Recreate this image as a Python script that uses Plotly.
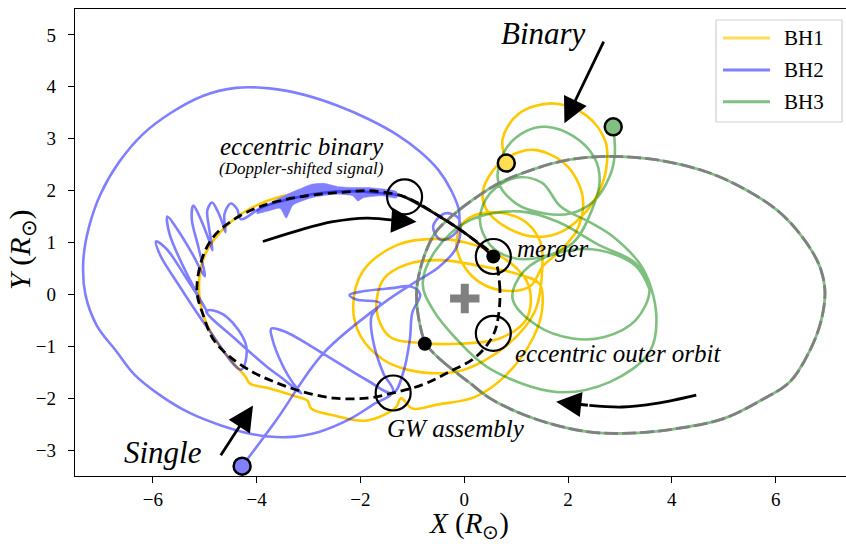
import plotly.graph_objects as go

# ---------------- trajectories (units of solar radii) ----------------
bh1_path = [
    (0.81, 2.53), (0.74, 3.0), (1.05, 3.48), (1.71, 3.68), (2.35, 3.45), (2.72, 2.95),
    (2.74, 2.45), (2.61, 2.01), (2.35, 1.6), (1.9, 1.22), (1.39, 1.11), (0.8, 1.3),
    (0.42, 1.65), (0.36, 2.0), (0.65, 2.5), (1.05, 2.74), (1.39, 2.78), (1.9, 2.55),
    (2.22, 2.1), (2.29, 1.69), (2.15, 1.2), (1.8, 0.8),
    (1.52, 0.55), (1.26, 0.15), (0.7, 0.08), (0.15, 0.35), (-0.15, 0.92), (0.0, 1.4),
    (0.5, 1.58), (1.1, 1.45), (1.45, 1.05), (1.5, 0.45),
    (1.35, -0.35), (0.8, -1.0), (0.0, -1.45), (-0.47, -1.52), (-1.1, -1.45), (-1.56, -1.26),
    (-2.0, -0.8), (-2.14, -0.24), (-1.95, 0.45), (-1.3, 0.95), (-0.47, 1.07), (0.2, 0.95),
    (0.9, 0.6), (1.25, 0.15),
    (1.2, -0.47), (0.68, -0.85), (-0.1, -0.95), (-0.79, -0.94), (-1.44, -0.81), (-1.69, -0.3),
    (-1.55, 0.3), (-1.1, 0.58), (-0.47, 0.66), (0.3, 0.55), (1.0, 0.4), (1.45, 0.2),
    (1.5, -0.3), (1.32, -0.85), (0.8, -1.56), (0.2, -1.98), (-0.5, -2.12), (-1.0, -2.2),
    (-1.22, -2.0), (-1.32, -2.18), (-1.88, -2.43), (-2.53, -2.33), (-2.95, -2.2),
    (-3.02, -2.05), (-3.3, -1.95), (-3.8, -1.8), (-4.13, -1.72), (-4.22, -1.58),
    (-4.6, -1.15), (-4.9, -0.7), (-5.08, -0.2), (-5.1, 0.35), (-4.98, 0.8), (-4.7, 1.2),
    (-4.3, 1.55), (-3.8, 1.8), (-3.2, 1.96), (-2.5, 2.02), (-1.9, 2.02), (-1.2, 1.9),
    (-0.5, 1.52), (0.1, 1.12), (0.56, 0.73),
]

bh2_path = [
    # incoming single
    (-4.28, -3.31), (-3.62, -2.42), (-2.72, -1.14), (-1.56, -0.17), (-0.99, 0.21),
    (-0.5, 0.52), (-0.18, 0.85), (-0.08, 1.15),
    (-0.12, 1.48), (-0.38, 1.56), (-0.6, 1.3), (-0.45, 1.05), (-0.15, 1.2), (-0.1, 1.6),
    # wide excursion
    (-0.25, 2.0), (-0.5, 2.4), (-0.85, 2.75), (-1.3, 3.08), (-1.85, 3.38), (-2.45, 3.64),
    (-3.1, 3.85), (-3.75, 3.97), (-4.4, 3.98), (-5.05, 3.82), (-5.65, 3.5), (-6.2, 3.08),
    (-6.65, 2.55), (-7.0, 1.95), (-7.23, 1.3), (-7.34, 0.65), (-7.3, 0.0), (-7.08, -0.6),
    (-6.7, -1.1), (-6.35, -1.55), (-5.85, -1.95), (-5.3, -2.28), (-4.7, -2.52),
    (-4.05, -2.7), (-3.4, -2.75), (-2.8, -2.65), (-2.2, -2.4), (-1.75, -2.12), (-1.37, -1.88),
    # loop above the assembly point
    (-1.56, -1.52), (-1.76, -0.88), (-1.79, -0.43), (-1.62, -0.17), (-2.08, -0.1),
    (-2.21, -0.01), (-1.95, 0.06), (-1.4, 0.12), (-1.02, 0.15), (-0.85, 0.0),
    (-1.0, -0.35), (-1.05, -0.88), (-1.18, -1.52), (-1.37, -1.9),
    # back out to the left
    (-1.88, -1.65), (-2.72, -1.14), (-3.45, -0.72), (-3.72, -0.66), (-3.7, -0.85),
    (-3.49, -1.39), (-3.3, -1.71), (-3.14, -1.91), (-3.5, -1.62), (-3.81, -1.39),
    (-4.39, -0.88), (-4.97, -0.33), (-4.9, -0.3), (-4.58, -0.43), (-4.2, -1.0),
    (-4.3, -1.45),
    # precessing petals of the eccentric binary
    (-4.95, -0.64), (-5.52, 0.21), (-5.86, 0.76), (-5.94, 1.02), (-5.74, 0.88),
    (-5.36, 0.32), (-5.0, -0.25), (-4.95, -0.35),
    (-5.41, 0.53), (-5.68, 1.17), (-5.72, 1.5), (-5.52, 1.24), (-5.25, 0.8), (-5.0, 0.35),
    (-5.12, 0.9), (-5.25, 1.45), (-5.22, 1.71), (-5.1, 1.5), (-4.92, 1.05), (-4.85, 0.85),
    (-4.92, 1.3), (-4.95, 1.62), (-4.86, 1.77), (-4.75, 1.6), (-4.65, 1.35), (-4.6, 1.2),
    (-4.62, 1.55), (-4.5, 1.75), (-4.38, 1.65), (-4.3, 1.45),
    # Doppler-modulated arc into the merger
    (-3.9, 1.68), (-3.4, 1.83), (-2.8, 1.95), (-2.2, 1.99), (-1.6, 1.95), (-1.15, 1.88),
    (-0.47, 1.5), (0.11, 1.11), (0.56, 0.73),
]

# envelope of the rapidly oscillating (Doppler-shifted) part of BH2's orbit
bh2_chirp = [
    (-4.0, 1.62), (-3.6, 1.84), (-3.2, 2.02), (-2.95, 2.12), (-2.7, 2.14), (-2.45, 2.08),
    (-2.15, 2.06), (-1.85, 2.06), (-1.55, 2.03), (-1.3, 1.98),
    (-1.3, 1.86), (-1.6, 1.9), (-1.95, 1.86), (-2.05, 1.8), (-2.15, 1.9), (-2.5, 1.93),
    (-2.95, 1.86), (-3.3, 1.72), (-3.43, 1.47), (-3.55, 1.66), (-3.8, 1.6), (-4.0, 1.55),
]

bh3_path = [
    (2.87, 3.23), (2.9, 2.7), (2.8, 2.27), (2.5, 1.8), (2.05, 1.56), (1.55, 1.56),
    (1.0, 1.75), (0.65, 2.2), (0.8, 2.8), (1.2, 3.15), (1.58, 3.23), (2.1, 3.05),
    (2.5, 2.65), (2.61, 2.2), (2.45, 1.6), (2.1, 1.0), (1.5, 0.72), (0.95, 0.7),
    (0.5, 0.95), (0.3, 1.45), (0.5, 1.95), (1.0, 2.25), (1.5, 2.15), (1.85, 1.7),
    (2.4, 1.4), (2.87, 1.11), (3.44, 0.5), (3.7, -0.4), (3.57, -1.11), (2.8, -1.69),
    (1.77, -1.88), (0.49, -1.43), (-0.16, -0.85), (-0.6, -0.3), (-0.8, 0.2), (-0.55, 0.85),
    (0.11, 1.43), (1.07, 1.6), (1.8, 1.4), (2.6, 0.95), (3.3, 0.6), (3.57, 0.1),
    (3.3, -0.5), (2.7, -0.82), (2.09, -0.85), (1.4, -0.6), (0.93, -0.08), (1.15, 0.45),
    (1.8, 0.8), (2.6, 0.85), (3.3, 0.55), (3.57, 0.1),
]

outer_orbit = [
    (-0.74, -0.95), (-0.41, -1.3), (0.1, -1.7), (0.49, -2.0), (1.1, -2.3), (1.76, -2.52),
    (2.4, -2.65), (3.05, -2.68), (4.0, -2.6), (4.98, -2.4), (5.7, -2.05), (6.27, -1.69),
    (6.65, -1.1), (6.87, -0.53), (6.95, 0.03), (6.88, 0.45), (6.72, 0.8), (6.4, 1.25),
    (6.02, 1.63), (5.4, 2.03), (4.73, 2.34), (3.9, 2.56), (3.12, 2.65), (2.5, 2.65),
    (1.84, 2.56), (1.13, 2.34), (0.7, 2.16), (0.16, 1.82), (-0.25, 1.5), (-0.55, 1.2),
    (-0.75, 0.8), (-0.88, 0.35), (-0.92, 0.0), (-0.88, -0.45), (-0.74, -0.95),
]

binary_com = [
    (0.56, 0.73), (0.68, 0.2), (0.66, -0.4), (0.56, -0.78), (0.23, -1.2), (-0.3, -1.5),
    (-0.8, -1.74), (-1.37, -1.9), (-1.88, -2.0), (-2.5, -2.0), (-3.17, -1.86), (-3.7, -1.67),
    (-4.07, -1.5), (-4.52, -1.2), (-4.84, -0.86), (-5.03, -0.4), (-5.15, 0.05), (-5.06, 0.66),
    (-4.84, 1.1), (-4.46, 1.43), (-3.94, 1.69), (-3.17, 1.88), (-2.2, 1.98), (-1.88, 2.0),
    (-1.15, 1.88), (-0.47, 1.5), (0.11, 1.11), (0.56, 0.73),
]
inspiral = [(-1.15, 1.88), (-0.47, 1.5), (0.11, 1.11), (0.56, 0.73)]

start_points = [(0.81, 2.53), (-4.28, -3.31), (2.87, 3.23)]
start_colors = ["rgb(255,221,85)", "rgb(128,128,255)", "rgb(128,192,128)"]
event_circles = [(-1.15, 1.88), (0.56, 0.73), (0.56, -0.75), (-1.37, -1.9)]
black_dots = [(0.56, 0.73), (-0.76, -0.95)]
centre_of_mass = (0.01, -0.08)

# arrows: straight (tail, tip) and curved (shaft points, tip last)
straight_arrows = [((2.7, 4.9), (1.93, 3.3)), ((-4.71, -3.13), (-4.07, -2.14))]
curved_arrows = [
    [(-3.88, 1.02), (-3.17, 1.24), (-2.53, 1.4), (-1.88, 1.47), (-1.37, 1.43), (-0.92, 1.4)],
    [(4.47, -1.94), (3.7, -2.1), (3.05, -2.17), (2.41, -2.14), (1.77, -2.07)],
]

labels = [
    ("eccentric binary", -3.12, 2.85, 25, "center"),
    ("(Doppler-shifted signal)", -3.14, 2.43, 17, "center"),
    ("Binary", 1.53, 5.03, 31, "center"),
    ("merger", 0.97, 0.89, 25, "left"),
    ("eccentric outer orbit", 0.93, -1.14, 25, "left"),
    ("GW assembly", -1.53, -2.59, 25, "left"),
    ("Single", -6.6, -3.04, 31, "left"),
]

legend_names = ["BH1", "BH2", "BH3"]
legend_colors = ["rgb(255,221,85)", "rgb(128,128,255)", "rgb(128,192,128)"]

SERIF = "Liberation Serif, Times New Roman, serif"
YELLOW = "rgb(255,200,0)"
BLUE = "rgba(0,0,255,0.5)"
GREEN = "rgba(0,128,0,0.5)"


def xs(pts):
    return [p[0] for p in pts]


def ys(pts):
    return [p[1] for p in pts]


fig = go.Figure()

# BH1, BH2, BH3 orbits
fig.add_trace(go.Scatter(x=xs(bh1_path), y=ys(bh1_path), mode="lines",
                         line=dict(color=YELLOW, width=2.6, shape="spline", smoothing=1.0),
                         hoverinfo="skip"))
fig.add_trace(go.Scatter(x=xs(bh2_chirp), y=ys(bh2_chirp), mode="lines", fill="toself",
                         fillcolor="rgb(128,128,255)",
                         line=dict(color="rgb(128,128,255)", width=0.5, shape="spline",
                                   smoothing=0.6),
                         hoverinfo="skip"))
fig.add_trace(go.Scatter(x=xs(bh2_path), y=ys(bh2_path), mode="lines",
                         line=dict(color=BLUE, width=2.6, shape="spline", smoothing=1.0),
                         hoverinfo="skip"))
fig.add_trace(go.Scatter(x=xs(bh3_path), y=ys(bh3_path), mode="lines",
                         line=dict(color=GREEN, width=2.6, shape="spline", smoothing=1.0),
                         hoverinfo="skip"))

# eccentric outer orbit of BH3 (green underneath a grey dashed fit)
fig.add_trace(go.Scatter(x=xs(outer_orbit), y=ys(outer_orbit), mode="lines",
                         line=dict(color=GREEN, width=2.8, shape="spline", smoothing=1.0),
                         hoverinfo="skip"))
fig.add_trace(go.Scatter(x=xs(outer_orbit), y=ys(outer_orbit), mode="lines",
                         line=dict(color="rgb(128,128,128)", width=2.8, dash="14px,4px",
                                   shape="spline", smoothing=1.0),
                         hoverinfo="skip"))

# binary centre-of-mass path and final inspiral
fig.add_trace(go.Scatter(x=xs(binary_com), y=ys(binary_com), mode="lines",
                         line=dict(color="black", width=2.8, dash="9px,5px",
                                   shape="spline", smoothing=1.0),
                         hoverinfo="skip"))
fig.add_trace(go.Scatter(x=xs(inspiral), y=ys(inspiral), mode="lines",
                         line=dict(color="rgba(0,0,0,0.85)", width=2.6, shape="spline"),
                         hoverinfo="skip"))

# curved arrow shafts
for arc in curved_arrows:
    fig.add_trace(go.Scatter(x=xs(arc[:-1]), y=ys(arc[:-1]), mode="lines",
                             line=dict(color="black", width=2.8, shape="spline"),
                             hoverinfo="skip"))

# markers
fig.add_trace(go.Scatter(x=xs(event_circles), y=ys(event_circles), mode="markers",
                         marker=dict(symbol="circle-open", size=35,
                                     line=dict(color="black", width=2.2), color="black"),
                         hoverinfo="skip"))
fig.add_trace(go.Scatter(x=xs(black_dots), y=ys(black_dots), mode="markers",
                         marker=dict(symbol="circle", size=14, color="black"),
                         hoverinfo="skip"))
fig.add_trace(go.Scatter(x=xs(start_points), y=ys(start_points), mode="markers",
                         marker=dict(symbol="circle", size=17, color=start_colors,
                                     line=dict(color="black", width=2.5)),
                         hoverinfo="skip"))
fig.add_trace(go.Scatter(x=[centre_of_mass[0]], y=[centre_of_mass[1]], mode="markers",
                         marker=dict(symbol="cross-thin", size=21,
                                     line=dict(color="rgb(128,128,128)", width=8)),
                         hoverinfo="skip"))

annotations = []
for (tail, tip) in straight_arrows:
    annotations.append(dict(x=tip[0], y=tip[1], ax=tail[0], ay=tail[1], xref="x", yref="y",
                            axref="x", ayref="y", text="", showarrow=True, arrowhead=2,
                            arrowsize=1.8, arrowwidth=2.8, arrowcolor="black"))
for arc in curved_arrows:
    annotations.append(dict(x=arc[-1][0], y=arc[-1][1], ax=arc[-2][0], ay=arc[-2][1],
                            xref="x", yref="y", axref="x", ayref="y", text="",
                            showarrow=True, arrowhead=2, arrowsize=1.8, arrowwidth=2.8,
                            arrowcolor="black"))
for text, lx, ly, size, anchor in labels:
    annotations.append(dict(x=lx, y=ly, xref="x", yref="y", text="<i>" + text + "</i>",
                            showarrow=False, xanchor=anchor, yanchor="middle",
                            font=dict(family=SERIF, size=size, color="black")))

# axis titles
annotations.append(dict(x=0.1, y=0, xref="x", yref="paper", yshift=-49,
                        text="<i>X</i> (<i>R</i><sub>⊙</sub>)", showarrow=False,
                        xanchor="center", yanchor="middle",
                        font=dict(family=SERIF, size=29, color="black")))
annotations.append(dict(x=0, y=0.484, xref="paper", yref="paper", xshift=-53,
                        text="<i>Y</i> (<i>R</i><sub>⊙</sub>)", showarrow=False, textangle=-90,
                        xanchor="center", yanchor="middle",
                        font=dict(family=SERIF, size=30, color="black")))

# legend box
shapes = [dict(type="rect", xref="paper", yref="paper", x0=0.8314, x1=0.9948,
               y0=0.758, y1=0.9764, line=dict(color="rgb(210,210,210)", width=1.2),
               fillcolor="rgba(255,255,255,0.8)", layer="above")]
legend_rows = [0.9379, 0.8694, 0.8015]
for name, col, ry in zip(legend_names, legend_colors, legend_rows):
    shapes.append(dict(type="line", xref="paper", yref="paper", x0=0.8405, x1=0.9014,
                       y0=ry, y1=ry, line=dict(color=col, width=3), layer="above"))
    annotations.append(dict(x=0.917, y=ry, xref="paper", yref="paper", text=name,
                            showarrow=False, xanchor="left", yanchor="middle",
                            font=dict(family=SERIF, size=21, color="black")))

axis_common = dict(showgrid=False, zeroline=False, showline=True, linecolor="black",
                   linewidth=1.3, ticks="outside", ticklen=6, tickwidth=1.3,
                   tickcolor="black",
                   tickfont=dict(family=SERIF, size=19, color="black"))

fig.update_layout(
    width=846, height=544,
    margin=dict(l=75, r=0, t=9, b=68),
    plot_bgcolor="white", paper_bgcolor="white",
    showlegend=False,
    xaxis=dict(range=[-7.5, 7.355], tickvals=[-6, -4, -2, 0, 2, 4, 6], mirror=True,
               ticklabelstandoff=0, **axis_common),
    yaxis=dict(range=[-3.5, 5.5], tickvals=[-3, -2, -1, 0, 1, 2, 3, 4, 5], mirror=False,
               ticklabelstandoff=8, **axis_common),
    annotations=annotations,
    shapes=shapes,
)

fig.write_html("out.html")
